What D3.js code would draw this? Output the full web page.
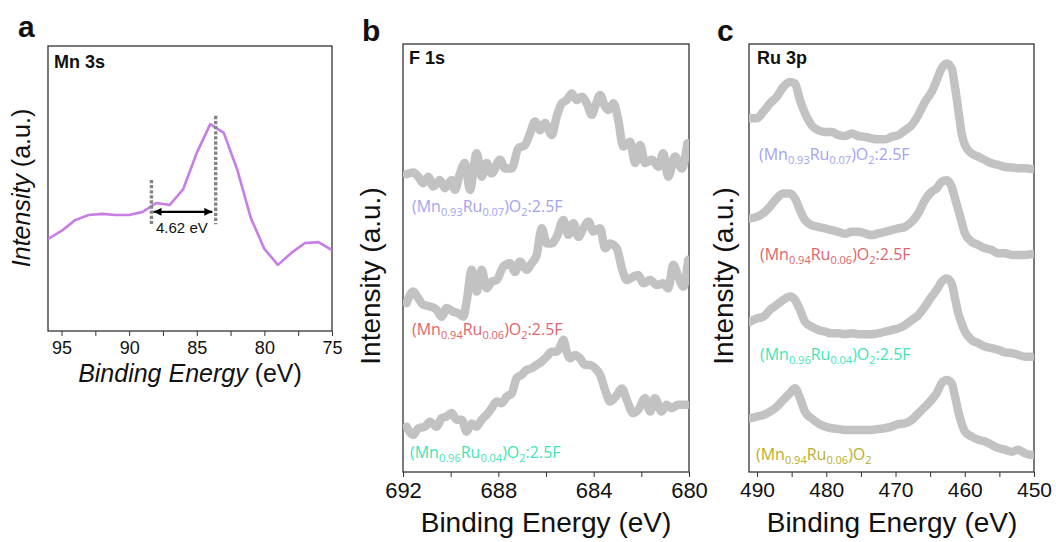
<!DOCTYPE html>
<html>
<head>
<meta charset="utf-8">
<title>XPS spectra</title>
<script src="https://cdn.jsdelivr.net/npm/d3@7/dist/d3.min.js"></script>
<style>
  body { margin: 0; background: #fff; }
  text { font-family: "Liberation Sans", Arial, sans-serif; fill: #111; }
  .lbl { font-family: "Open Sans", "Noto Sans", sans-serif; }
</style>
</head>
<body>
<div id="chart"></div>
<script>
// ---- panel a : Mn 3s ----
var mnEnergy = [96, 95, 94, 93, 92, 91, 90, 89, 88, 87, 86, 85, 84, 83, 82, 81, 80, 79, 78, 77, 76, 75];
var mnIntensity = [32.3, 35.1, 38.9, 40.7, 41.1, 40.7, 40.7, 41.8, 44.9, 44.2, 49.8, 62.5, 72.6, 69.5, 56.5, 39.6, 28.8, 23.2, 27.4, 30.9, 31.2, 28.4];
var mnTicks = [95, 90, 85, 80, 75];
var mnMinor = [92.5, 87.5, 82.5, 77.5];
var splitLeft = 88.35, splitRight = 83.6, splitText = "4.62 eV";

// ---- panel b : F 1s  ([binding energy, intensity]) ----
var f1s_093 = [[691.85,67.9],[691.57,68.3],[691.36,67.3],[691.15,65.7],[690.94,67.3],[690.73,64.9],[690.45,66.5],[690.24,64.5],[689.96,66.5],[689.82,64.1],[689.61,68.1],[689.40,70.6],[689.19,64.1],[688.91,73.0],[688.70,67.3],[688.49,70.6],[688.28,68.1],[687.93,71.4],[687.72,69.3],[687.44,69.3],[687.16,74.2],[686.88,75.0],[686.67,77.8],[686.46,80.7],[686.25,78.6],[686.04,80.3],[685.76,77.4],[685.55,81.9],[685.34,85.1],[685.13,85.9],[684.92,87.5],[684.71,85.9],[684.50,86.7],[684.29,85.1],[684.08,82.3],[683.94,84.3],[683.73,87.1],[683.52,84.3],[683.38,83.5],[683.17,85.1],[682.97,81.1],[682.76,74.6],[682.47,75.8],[682.26,70.6],[682.05,75.0],[681.84,70.6],[681.56,71.4],[681.28,69.7],[681.08,73.0],[680.87,67.3],[680.59,72.2],[680.30,69.3],[680.07,75.4]];
var f1s_094 = [[691.85,36.6],[691.57,39.4],[691.36,37.8],[691.15,36.2],[690.87,35.8],[690.59,35.0],[690.38,33.3],[690.17,35.4],[689.89,34.5],[689.68,34.1],[689.47,33.3],[689.33,37.0],[689.12,44.7],[688.91,39.4],[688.70,44.7],[688.49,40.2],[688.28,41.8],[688.07,42.2],[687.79,45.5],[687.51,46.3],[687.30,44.2],[687.09,46.7],[686.81,44.7],[686.60,46.3],[686.39,48.3],[686.18,54.8],[685.97,51.1],[685.76,51.1],[685.55,52.7],[685.27,56.8],[685.06,53.2],[684.85,56.0],[684.64,52.7],[684.43,54.8],[684.22,56.4],[684.01,54.0],[683.73,54.8],[683.52,49.9],[683.31,51.1],[683.03,49.9],[682.82,45.1],[682.61,42.2],[682.34,43.0],[682.13,43.4],[681.92,41.4],[681.63,42.2],[681.35,41.0],[681.08,41.4],[680.87,40.2],[680.66,45.9],[680.45,43.0],[680.24,40.6],[680.03,47.1]];
var f1s_096 = [[691.85,6.6],[691.57,4.6],[691.36,6.2],[691.08,6.6],[690.87,7.8],[690.59,6.6],[690.38,8.7],[690.17,9.1],[689.96,9.9],[689.75,8.3],[689.54,8.3],[689.33,5.4],[689.12,7.4],[688.91,6.6],[688.70,8.3],[688.49,9.5],[688.28,11.1],[688.07,12.7],[687.86,12.3],[687.65,13.9],[687.44,14.7],[687.23,18.4],[687.02,19.2],[686.81,20.4],[686.60,20.8],[686.39,21.6],[686.18,22.4],[685.97,23.6],[685.76,24.8],[685.55,24.8],[685.41,26.0],[685.27,27.7],[685.13,24.8],[684.99,23.2],[684.78,24.0],[684.57,23.2],[684.36,21.6],[684.15,21.6],[683.94,20.8],[683.73,19.2],[683.52,15.5],[683.31,12.7],[683.03,14.3],[682.82,15.9],[682.61,13.1],[682.34,9.9],[682.13,10.7],[681.84,13.5],[681.63,10.3],[681.43,13.5],[681.15,10.3],[680.94,11.9],[680.73,11.1],[680.45,11.9],[680.10,11.9]];
var fTicks = [692, 688, 684, 680];
var fMinor = [690, 686, 682];

// ---- panel c : Ru 3p ----
var ruEnergy = [491.02,490.05,489.09,488.13,487.16,486.2,485.24,484.52,483.8,483.07,482.11,481.15,480.19,479.22,478.26,477.3,476.33,475.37,474.41,473.45,472.48,471.52,470.56,469.6,468.63,467.67,466.71,465.74,464.78,464.06,463.34,462.62,461.89,461.41,460.93,460.45,459.97,459.01,458.04,457.08,456.12,455.16,454.19,453.23,452.27,451.3,450.34];
var ru_093F = [81.8,81.8,83.4,85.4,87.0,89.4,90.6,90.2,86.2,83.0,80.1,78.9,78.5,78.5,77.7,77.5,78.1,77.5,77.3,76.9,76.7,76.7,77.3,77.7,78.9,80.1,82.6,85.8,88.2,91.0,93.9,95.1,93.9,89.4,83.8,78.1,75.3,73.3,72.5,71.7,70.9,70.5,70.0,69.9,69.7,69.7,69.5];
var ru_094F = [57.5,57.9,58.8,60.4,62.4,63.6,63.6,62.4,59.6,57.1,55.9,55.5,55.1,54.7,54.3,53.8,54.3,54.3,53.9,53.5,53.9,54.3,54.7,55.1,55.5,56.7,58.8,62.0,64.0,64.8,66.4,66.8,65.2,62.4,59.6,56.7,53.9,51.9,51.1,50.3,49.9,49.1,49.1,48.7,48.7,48.7,48.9];
var ru_096F = [32.5,33.3,33.7,35.4,36.6,37.8,38.6,37.8,35.4,32.5,31.3,30.5,30.1,29.7,29.7,29.5,29.7,29.5,29.5,29.5,29.7,30.1,30.5,30.9,31.7,32.9,34.1,36.2,38.6,40.2,42.2,43.0,41.8,38.2,34.5,32.1,30.1,28.1,27.3,26.5,26.1,25.7,25.1,24.9,24.5,24.0,24.0];
var ru_094 = [9.1,9.5,9.9,10.7,11.9,13.6,15.2,16.4,14.0,10.7,9.1,7.9,7.1,6.7,6.5,6.3,6.3,6.3,6.3,6.3,6.5,6.7,7.1,7.7,7.9,8.7,10.3,11.9,13.6,15.2,17.6,18.4,17.6,14.4,10.7,7.9,5.9,4.7,3.9,3.5,2.7,1.9,1.5,1.0,1.5,0.6,0.2];
var ruTicks = [490, 480, 470, 460, 450];
var ruMinor = [485, 475, 465, 455];

// sample names: [text, subscript?]
var name093F = [["(Mn",0],["0.93",1],["Ru",0],["0.07",1],[")O",0],["2",1],[":2.5F",0]];
var name094F = [["(Mn",0],["0.94",1],["Ru",0],["0.06",1],[")O",0],["2",1],[":2.5F",0]];
var name096F = [["(Mn",0],["0.96",1],["Ru",0],["0.04",1],[")O",0],["2",1],[":2.5F",0]];
var name094 = [["(Mn",0],["0.94",1],["Ru",0],["0.06",1],[")O",0],["2",1]];

var svg = d3.select("#chart").append("svg").attr("width", 1056).attr("height", 542);

function makePanel(o) {
  var g = svg.append("g");
  var x = d3.scaleLinear().domain(o.xd).range([o.l, o.r]);
  var y = d3.scaleLinear().domain(o.yd).range([o.b, o.t]);
  var id = "clip" + o.key;
  svg.append("clipPath").attr("id", id).append("rect")
     .attr("x", o.l).attr("y", o.t).attr("width", o.r - o.l).attr("height", o.b - o.t);

  var ax = g.append("g").attr("transform", "translate(0," + o.b + ")")
     .call(d3.axisBottom(x).tickValues(o.major).tickSize(5).tickPadding(o.pad).tickFormat(d3.format("d")));
  ax.select(".domain").remove();
  ax.selectAll("line").attr("stroke", "#333");
  ax.selectAll("text").style("font-size", o.fs + "px").attr("fill", "#111");
  var mn = g.append("g").attr("transform", "translate(0," + o.b + ")")
     .call(d3.axisBottom(x).tickValues(o.minor).tickSize(5).tickFormat(""));
  mn.select(".domain").remove();
  mn.selectAll("line").attr("stroke", "#333");

  g.append("rect").attr("x", o.l).attr("y", o.t).attr("width", o.r - o.l).attr("height", o.b - o.t)
   .attr("fill", "none").attr("stroke", "#333").attr("stroke-width", 1.3);

  var plot = g.append("g").attr("clip-path", "url(#" + id + ")");
  return { g: g, plot: plot, x: x, y: y };
}

function formula(g, px, py, parts, color) {
  var t = g.append("text").attr("class", "lbl").attr("x", px).attr("y", py)
    .style("font-size", "16px").style("fill", color);
  var down = false;
  parts.forEach(function(p) {
    var s = t.append("tspan").text(p[0]);
    if (p[1] && !down) { s.attr("dy", 4).style("font-size", "11px"); down = true; }
    else if (!p[1] && down) { s.attr("dy", -4); down = false; }
    else if (p[1]) { s.style("font-size", "11px"); }
  });
}

function axisLabel(g, px, py, rot, size, parts) {
  var t = g.append("text").attr("text-anchor", "middle")
    .attr("transform", "translate(" + px + "," + py + ")" + (rot ? " rotate(-90)" : ""))
    .style("font-size", size + "px");
  parts.forEach(function(p) {
    t.append("tspan").text(p[0]).style("font-style", p[1] ? "italic" : "normal");
  });
}

// ----- panel a -----
var A = makePanel({ key: "a", l: 48, r: 332, t: 46, b: 331, xd: [96, 75], yd: [0, 100],
                    major: mnTicks, minor: mnMinor, fs: 18, pad: 5 });
A.plot.append("path").datum(d3.zip(mnEnergy, mnIntensity))
  .attr("fill", "none").attr("stroke", "#c77de6").attr("stroke-width", 2.6).attr("stroke-linejoin", "round")
  .attr("d", d3.line().x(function(d){ return A.x(d[0]); }).y(function(d){ return A.y(d[1]); }));

A.g.append("line").attr("x1", A.x(splitLeft)).attr("x2", A.x(splitLeft)).attr("y1", A.y(53)).attr("y2", A.y(37.5))
  .attr("stroke", "#858585").attr("stroke-width", 3.4).attr("stroke-dasharray", "3.3,1.8");
A.g.append("line").attr("x1", A.x(splitRight)).attr("x2", A.x(splitRight)).attr("y1", A.y(75.5)).attr("y2", A.y(37.5))
  .attr("stroke", "#858585").attr("stroke-width", 3.4).attr("stroke-dasharray", "3.3,1.8");

var defs = svg.append("defs");
defs.append("marker").attr("id", "ah").attr("viewBox", "0 0 10 10").attr("refX", 10).attr("refY", 5)
  .attr("markerUnits", "userSpaceOnUse").attr("markerWidth", 9).attr("markerHeight", 8).attr("orient", "auto-start-reverse")
  .append("path").attr("d", "M0,0L10,5L0,10Z").attr("fill", "#000");
A.g.append("line").attr("x1", A.x(88.2)).attr("x2", A.x(83.85)).attr("y1", A.y(41.8)).attr("y2", A.y(41.8))
  .attr("stroke", "#000").attr("stroke-width", 2.2)
  .attr("marker-start", "url(#ah)").attr("marker-end", "url(#ah)");
A.g.append("text").attr("x", A.x(86.1)).attr("y", 233).attr("text-anchor", "middle")
  .style("font-size", "15px").text(splitText);

A.g.append("text").attr("x", 54).attr("y", 68).style("font-size", "18px").style("font-weight", "bold").text("Mn 3s");
A.g.append("text").attr("x", 18).attr("y", 37).style("font-size", "30px").style("font-weight", "bold").text("a");
axisLabel(A.g, 30, 188, true, 25, [["Intensity", 1], [" (a.u.)", 0]]);
axisLabel(A.g, 190, 382, false, 25, [["Binding Energy", 1], [" (eV)", 0]]);

// ----- panel b -----
var B = makePanel({ key: "b", l: 403, r: 689, t: 44, b: 472, xd: [692, 680], yd: [-4.4, 99.5],
                    major: fTicks, minor: fMinor, fs: 22, pad: 5 });
var grayLine = function(P) {
  return d3.line().curve(d3.curveMonotoneX)
    .x(function(d){ return P.x(d[0]); }).y(function(d){ return P.y(d[1]); });
};
[f1s_093, f1s_094, f1s_096].forEach(function(s) {
  B.plot.append("path").datum(s).attr("fill", "none").attr("stroke", "#c2c2c2")
    .attr("stroke-width", 8.5).attr("stroke-linejoin", "round").attr("stroke-linecap", "round")
    .attr("d", grayLine(B));
});
formula(B.g, 412, 212, name093F, "#a3a3f2");
formula(B.g, 412, 335, name094F, "#e0646c");
formula(B.g, 410, 458, name096F, "#3fe5b6");
B.g.append("text").attr("x", 409).attr("y", 64).style("font-size", "18px").style("font-weight", "bold").text("F 1s");
B.g.append("text").attr("x", 362).attr("y", 41).style("font-size", "30px").style("font-weight", "bold").text("b");
axisLabel(B.g, 380, 276, true, 28, [["Intensity (a.u.)", 0]]);
axisLabel(B.g, 546, 532, false, 28, [["Binding Energy (eV)", 0]]);

// ----- panel c -----
var C = makePanel({ key: "c", l: 749, r: 1034, t: 44, b: 472, xd: [491.16, 450], yd: [-3.9, 99.8],
                    major: ruTicks, minor: ruMinor, fs: 21, pad: 5 });
[ru_093F, ru_094F, ru_096F, ru_094].forEach(function(v) {
  C.plot.append("path").datum(d3.zip(ruEnergy, v)).attr("fill", "none").attr("stroke", "#c2c2c2")
    .attr("stroke-width", 8.5).attr("stroke-linejoin", "round").attr("stroke-linecap", "round")
    .attr("d", grayLine(C));
});
formula(C.g, 759, 160, name093F, "#a3a3f2");
formula(C.g, 760, 260, name094F, "#e0646c");
formula(C.g, 760, 360, name096F, "#3fe5b6");
formula(C.g, 756, 460, name094, "#b7ae2f");
C.g.append("text").attr("x", 757).attr("y", 64).style("font-size", "18px").style("font-weight", "bold").text("Ru 3p");
C.g.append("text").attr("x", 717).attr("y", 41).style("font-size", "30px").style("font-weight", "bold").text("c");
axisLabel(C.g, 733, 276, true, 28, [["Intensity (a.u.)", 0]]);
axisLabel(C.g, 892, 532, false, 28, [["Binding Energy (eV)", 0]]);
</script>
</body>
</html>
